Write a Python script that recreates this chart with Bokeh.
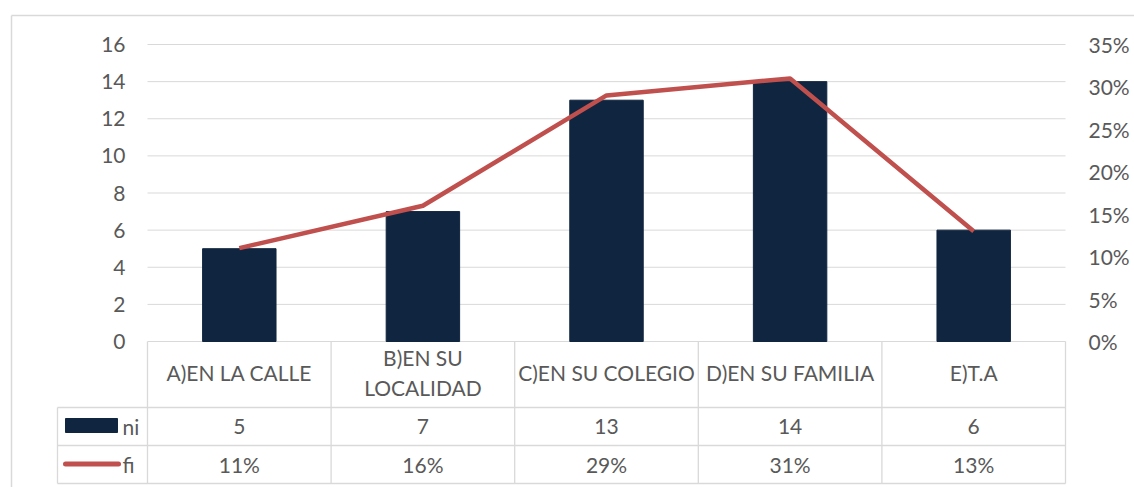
from bokeh.plotting import figure
from bokeh.models import Range1d, LinearAxis, FixedTicker, NumeralTickFormatter, ColumnDataSource
from bokeh.core.properties import value
from bokeh.embed import file_html
from bokeh.resources import INLINE

# ---------------- data ----------------
categories = ["A)EN LA CALLE", "B)EN SU\nLOCALIDAD", "C)EN SU COLEGIO", "D)EN SU FAMILIA", "E)T.A"]
ni = [5, 7, 13, 14, 6]
fi = [0.11, 0.16, 0.29, 0.31, 0.13]
left_ticks = [0, 2, 4, 6, 8, 10, 12, 14, 16]
right_ticks = [0.0, 0.05, 0.10, 0.15, 0.20, 0.25, 0.30, 0.35]
series_names = ["ni", "fi"]

# ---------------- styles / layout (pixels inside figure) ----------------
BAR_COLOR = "#10253F"
LINE_COLOR = "#C0504D"
TEXT_COLOR = "#595959"
GRID_COLOR = "#D9D9D9"
FONT = "Lato"
FS = "21px"

W, H = 1134, 487
PLOT_L, PLOT_R = 147, 1065
PLOT_T, PLOT_B = 44, 341
ROW_CAT_B = 407
ROW_NI_B = 445
ROW_FI_B = 483
LEG_L = 57
BORDER_X, BORDER_Y = 11, 15

n = len(categories)
cw = (PLOT_R - PLOT_L) / n
ymax = left_ticks[-1]
ppy = (PLOT_B - PLOT_T) / ymax
rmax = right_ticks[-1]
ppr = (PLOT_B - PLOT_T) / rmax


def X(fx):
    return (fx - PLOT_L) / cw


def Y(fy):
    return (PLOT_B - fy) / ppy


p = figure(width=W, height=H, output_backend="svg", toolbar_location=None,
           x_axis_location=None, y_axis_location=None,
           x_range=Range1d(X(0), X(W)), y_range=Range1d(Y(H), Y(0)),
           min_border=0, outline_line_color=None, tools="")
p.grid.visible = False
p.extra_y_ranges = {"pct": Range1d((PLOT_B - H) / ppr, PLOT_B / ppr)}

# axes
yl = LinearAxis(ticker=FixedTicker(ticks=left_ticks), fixed_location=X(PLOT_L))
yr = LinearAxis(y_range_name="pct", ticker=FixedTicker(ticks=right_ticks),
                formatter=NumeralTickFormatter(format="0%"), fixed_location=X(PLOT_R))
for ax, so in ((yl, 22), (yr, 23)):
    ax.axis_line_color = None
    ax.major_tick_line_color = None
    ax.minor_tick_line_color = None
    ax.major_tick_out = 0
    ax.major_tick_in = 0
    ax.major_label_standoff = so
    ax.major_label_text_font = FONT
    ax.major_label_text_font_size = FS
    ax.major_label_text_color = TEXT_COLOR
p.add_layout(yl, "left")
p.add_layout(yr, "right")

# outer border
p.segment(x0=[X(BORDER_X), X(BORDER_X)], y0=[Y(BORDER_Y), Y(BORDER_Y)],
          x1=[X(W), X(BORDER_X)], y1=[Y(BORDER_Y), Y(H)],
          line_color=GRID_COLOR, line_width=1.5)

# gridlines
p.segment(x0=[0] * len(left_ticks), x1=[n] * len(left_ticks), y0=left_ticks, y1=left_ticks,
          line_color=GRID_COLOR, line_width=1)

# table lines
hx0 = [X(LEG_L), X(LEG_L), X(LEG_L)]
hy = [Y(ROW_CAT_B), Y(ROW_NI_B), Y(ROW_FI_B)]
p.segment(x0=hx0, x1=[n] * 3, y0=hy, y1=hy, line_color=GRID_COLOR, line_width=1.3)
vx = list(range(n + 1))
p.segment(x0=vx, x1=vx, y0=[0] * (n + 1), y1=[Y(ROW_FI_B)] * (n + 1),
          line_color=GRID_COLOR, line_width=1.3)
p.segment(x0=[X(LEG_L)], x1=[X(LEG_L)], y0=[Y(ROW_CAT_B)], y1=[Y(ROW_FI_B)],
          line_color=GRID_COLOR, line_width=1.3)

# bars & line
xc = [i + 0.5 for i in range(n)]
src = ColumnDataSource(dict(x=xc, ni=ni, fi=fi))
p.vbar(x="x", top="ni", bottom=0, width=0.4, source=src, color=BAR_COLOR)
p.line(x="x", y="fi", source=src, y_range_name="pct", line_color=LINE_COLOR, line_width=4.5,
       line_join="round")

# table texts
tstyle = dict(text_font=value(FONT), text_font_size=FS, text_color=TEXT_COLOR,
              text_align="center", text_baseline="middle")
p.text(x=xc, y=[Y((PLOT_B + ROW_CAT_B) / 2 - 2)] * n, text=categories, text_line_height=1.2, **tstyle)
p.text(x=xc, y=[Y((ROW_CAT_B + ROW_NI_B) / 2)] * n, text=[str(v) for v in ni], **tstyle)
p.text(x=xc, y=[Y((ROW_NI_B + ROW_FI_B) / 2)] * n, text=[f"{round(v * 100)}%" for v in fi], **tstyle)

# legend keys
p.quad(left=[X(65)], right=[X(117)], top=[Y(418)], bottom=[Y(432)], color=BAR_COLOR)
p.line(x=[X(65), X(118)], y=[Y(463.5), Y(463.5)], line_color=LINE_COLOR, line_width=5, line_cap="round")
lstyle = dict(tstyle)
lstyle["text_align"] = "left"
p.text(x=[X(122), X(122)], y=[Y((ROW_CAT_B + ROW_NI_B) / 2), Y((ROW_NI_B + ROW_FI_B) / 2)],
       text=series_names, **lstyle)

open("out.html", "w").write(file_html(p, INLINE))
